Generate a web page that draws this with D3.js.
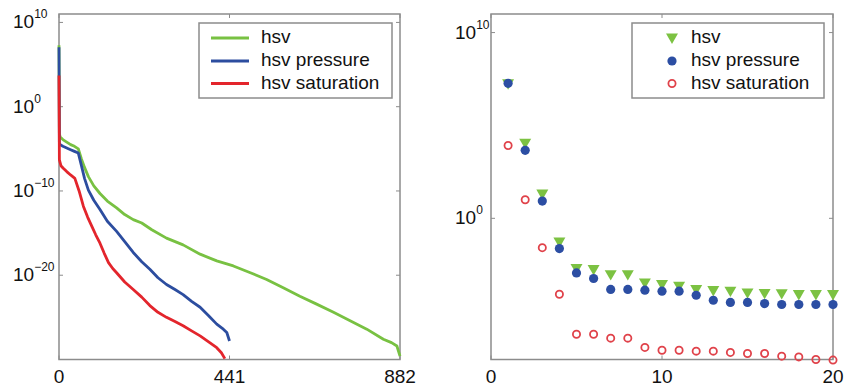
<!DOCTYPE html>
<html><head><meta charset="utf-8">
<script src="https://cdn.jsdelivr.net/npm/d3@7"></script>
<style>
body{margin:0;background:#fff;}
text{font-family:"Liberation Sans",Arial,sans-serif;fill:#111;}
</style></head>
<body><svg id="c" width="856" height="389"></svg>
<script>
// ---- Left panel: singular value curves (log10 exponents) ----
const hsvIdx = [0,1,3,10,20,30,40,50,58,66,76,90,106,125,149,170,192,214,240,278,321,365,408,451,495,537,580,623,665,710,753,796,839,860,874,882];
const hsvExp = [7.3,-3.2,-3.6,-3.9,-4.2,-4.5,-4.7,-5.0,-6.2,-7.2,-8.3,-9.4,-10.3,-11.2,-12.0,-12.8,-13.4,-13.8,-14.6,-15.6,-16.4,-17.5,-18.3,-18.9,-19.7,-20.5,-21.5,-22.5,-23.4,-24.4,-25.4,-26.4,-27.6,-28.0,-28.4,-29.6];
const pressureIdx = [0,1,3,10,20,30,40,50,58,66,76,90,106,125,149,170,192,214,235,256,278,300,321,343,365,387,408,425,434,441];
const pressureExp = [7.05,-4.3,-4.5,-4.7,-4.9,-5.1,-5.3,-5.5,-7.0,-8.5,-9.9,-11.1,-12.2,-13.6,-14.8,-16.0,-17.3,-18.4,-19.3,-20.3,-21.1,-21.7,-22.3,-23.1,-23.8,-24.8,-25.8,-26.4,-26.8,-27.8];
const saturationIdx = [0,1,5,11,20,30,41,52,63,74,85,95,106,117,128,139,149,170,192,214,235,256,278,300,321,343,365,387,408,420,429];
const saturationExp = [3.7,-6.3,-7.0,-7.3,-7.7,-8.1,-8.5,-10.0,-11.8,-13.1,-14.2,-15.2,-16.2,-17.4,-18.5,-19.2,-19.7,-20.8,-21.7,-22.6,-23.6,-24.4,-25.0,-25.5,-26.0,-26.6,-27.2,-27.9,-28.6,-29.2,-29.9];
const leftXTicks = [0,441,882];
const leftYTickExp = [10,0,-10,-20];

// ---- Right panel: first 20 singular values (log10 exponents) ----
const rightIdx = [1,2,3,4,5,6,7,8,9,10,11,12,13,14,15,16,17,18,19,20];
const hsvPts = [7.3,4.1,1.36,-1.22,-2.65,-2.70,-2.98,-2.98,-3.42,-3.51,-3.60,-3.78,-3.83,-3.87,-3.96,-3.99,-4.0,-4.05,-4.05,-4.05];
const pressurePts = [7.27,3.66,0.93,-1.63,-2.94,-3.24,-3.83,-3.83,-3.87,-3.92,-3.92,-4.14,-4.41,-4.53,-4.53,-4.59,-4.64,-4.64,-4.64,-4.64];
const saturationPts = [3.92,1.0,-1.58,-4.09,-6.24,-6.24,-6.45,-6.45,-6.95,-7.10,-7.10,-7.15,-7.15,-7.22,-7.28,-7.28,-7.42,-7.46,-7.6,-7.63];
const rightXTicks = [0,10,20];
const rightYTickExp = [10,0];

const seriesNames = ["hsv","hsv pressure","hsv saturation"];
const lineColors = ["#78c142","#2c4d9f","#e3252c"];

const svg = d3.select("#c");
const frameColor = "#8c8c8c";
const FS = 19;

function supLabel(g, x, y, e){
  const t = g.append("text").attr("x",x).attr("y",y).attr("font-size",FS).attr("dominant-baseline","middle");
  t.append("tspan").text("10");
  t.append("tspan").attr("font-size",12).attr("dy",-8).text(String(e).replace("-","\u2212"));
}

function frame(g, x0, x1, y0, y1){
  g.append("rect").attr("x",x0).attr("y",y0).attr("width",x1-x0).attr("height",y1-y0)
   .attr("fill","none").attr("stroke",frameColor).attr("stroke-width",1.5);
}

// ---------- LEFT ----------
const L = {x0:59, x1:400, y0:14, y1:359.5};
const xL = d3.scaleLinear().domain([0,882]).range([L.x0,L.x1]);
const yL = d3.scaleLog().domain([1e-30,1e11]).range([L.y1,L.y0]);
const gL = svg.append("g");
frame(gL, L.x0, L.x1, L.y0, L.y1);
leftYTickExp.forEach(e=>{
  const y = yL(Math.pow(10,e));
  gL.append("line").attr("x1",L.x0).attr("x2",L.x0+4).attr("y1",y).attr("y2",y).attr("stroke",frameColor);
  gL.append("line").attr("x1",L.x1-4).attr("x2",L.x1).attr("y1",y).attr("y2",y).attr("stroke",frameColor);
  supLabel(gL, 13, y+1, e);
});
leftXTicks.forEach(v=>{
  const x = xL(v);
  gL.append("line").attr("x1",x).attr("x2",x).attr("y1",L.y1).attr("y2",L.y1-4).attr("stroke",frameColor);
  gL.append("line").attr("x1",x).attr("x2",x).attr("y1",L.y0).attr("y2",L.y0+4).attr("stroke",frameColor);
  gL.append("text").attr("x",x).attr("y",383).attr("text-anchor","middle").attr("font-size",FS).text(v);
});
const lineGen = d3.line().x(d=>xL(d[0])).y(d=>yL(Math.pow(10,d[1])));
[[hsvIdx,hsvExp],[pressureIdx,pressureExp],[saturationIdx,saturationExp]].forEach((s,i)=>{
  const pts = s[0].map((v,j)=>[v,s[1][j]]);
  gL.append("path").attr("d",lineGen(pts)).attr("fill","none").attr("stroke",lineColors[i])
    .attr("stroke-width",2.8).attr("stroke-linejoin","round");
});
const lgL = gL.append("g");
lgL.append("rect").attr("x",199).attr("y",23).attr("width",193).attr("height",75)
  .attr("fill","#fff").attr("stroke",frameColor).attr("stroke-width",1.5);
[38,61,83.5].forEach((y,i)=>{
  lgL.append("line").attr("x1",211).attr("x2",249).attr("y1",y).attr("y2",y).attr("stroke",lineColors[i]).attr("stroke-width",3);
  lgL.append("text").attr("x",261).attr("y",y).attr("dominant-baseline","middle").attr("font-size",FS).text(seriesNames[i]);
});

// ---------- RIGHT ----------
const R = {x0:491, x1:833, y0:14, y1:359.5};
const xR = d3.scaleLinear().domain([0,20]).range([R.x0,R.x1]);
const yR = d3.scaleLog().domain([Math.pow(10,-7.6),1e11]).range([R.y1,R.y0]);
const gR = svg.append("g");
frame(gR, R.x0, R.x1, R.y0, R.y1);
rightYTickExp.forEach(e=>{
  const y = yR(Math.pow(10,e));
  gR.append("line").attr("x1",R.x0).attr("x2",R.x0+4).attr("y1",y).attr("y2",y).attr("stroke",frameColor);
  gR.append("line").attr("x1",R.x1-4).attr("x2",R.x1).attr("y1",y).attr("y2",y).attr("stroke",frameColor);
  supLabel(gR, 455, y+1, e);
});
rightXTicks.forEach(v=>{
  const x = xR(v);
  gR.append("line").attr("x1",x).attr("x2",x).attr("y1",R.y1).attr("y2",R.y1-4).attr("stroke",frameColor);
  gR.append("line").attr("x1",x).attr("x2",x).attr("y1",R.y0).attr("y2",R.y0+4).attr("stroke",frameColor);
  gR.append("text").attr("x",x).attr("y",383).attr("text-anchor","middle").attr("font-size",FS).text(v);
});
const triColor = "#7cc242", blueColor = "#2c4ea3", redColor = "#e0424a";
const tri = d3.symbol().type(d3.symbolTriangle).size(62);
const ptsG = gR.append("g");
rightIdx.forEach((k,j)=>{
  ptsG.append("path").attr("d",tri()).attr("fill",triColor)
    .attr("transform",`translate(${xR(k)},${yR(Math.pow(10,hsvPts[j]))}) rotate(180)`);
});
rightIdx.forEach((k,j)=>{
  ptsG.append("circle").attr("cx",xR(k)).attr("cy",yR(Math.pow(10,pressurePts[j]))).attr("r",4.6).attr("fill",blueColor);
});
rightIdx.forEach((k,j)=>{
  ptsG.append("circle").attr("cx",xR(k)).attr("cy",yR(Math.pow(10,saturationPts[j]))).attr("r",3.6)
    .attr("fill","none").attr("stroke",redColor).attr("stroke-width",1.8);
});
const lgR = gR.append("g");
lgR.append("rect").attr("x",632).attr("y",23).attr("width",192).attr("height",75)
  .attr("fill","#fff").attr("stroke",frameColor).attr("stroke-width",1.5);
lgR.append("path").attr("d",tri()).attr("fill",triColor).attr("transform","translate(672,37) rotate(180)");
lgR.append("circle").attr("cx",672).attr("cy",61).attr("r",4.6).attr("fill",blueColor);
lgR.append("circle").attr("cx",672).attr("cy",83.5).attr("r",3.6).attr("fill","none").attr("stroke",redColor).attr("stroke-width",1.8);
[38,61,83.5].forEach((y,i)=>{
  lgR.append("text").attr("x",691).attr("y",y).attr("dominant-baseline","middle").attr("font-size",FS).text(seriesNames[i]);
});
</script></body></html>
